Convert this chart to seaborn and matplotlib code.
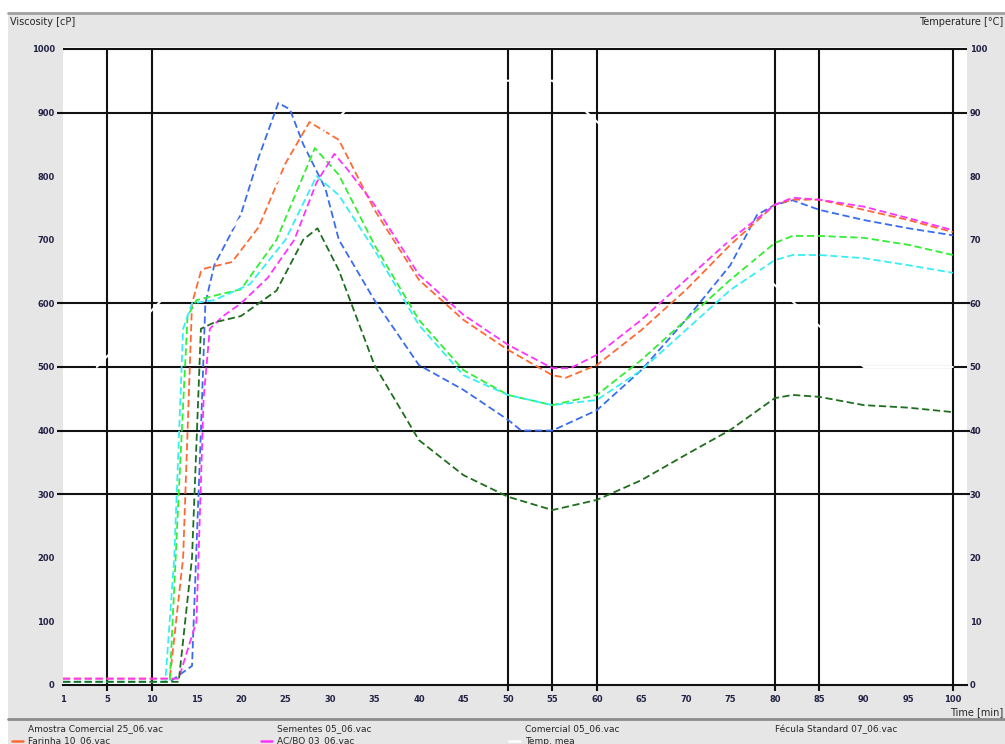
import matplotlib
matplotlib.use("Agg")
import matplotlib.pyplot as plt
from matplotlib.lines import Line2D
from matplotlib.patches import Rectangle
import pandas as pd
import seaborn as sns

# RVA viscosity curves, time axis is in chart index units (tick labels 1, 5, 10 ... 100)
blue_t = [0, 12, 14.5, 15.5, 16.0, 17.0, 20, 22, 24.2, 25.5, 27, 29.5, 31, 35, 40, 45, 50, 51.5, 55, 60, 65, 70, 75, 78, 80, 82, 85, 90, 95, 100]
blue_v = [5, 5, 30, 400, 600, 660, 740, 830, 915, 905, 850, 780, 700, 605, 503, 464, 417, 400, 400, 432, 495, 574, 660, 739, 755, 762, 747, 731, 718, 707]

orange_t = [0, 12, 13.5, 14.5, 15.5, 16, 19, 22, 25, 27.7, 31, 35, 40, 45, 50, 55, 56.5, 60, 65, 70, 75, 80, 82, 85, 90, 95, 100]
orange_v = [10, 10, 200, 600, 650, 655, 665, 720, 820, 885, 857, 747, 637, 574, 527, 487, 483, 503, 558, 621, 692, 755, 763, 763, 747, 731, 712]

magenta_t = [0, 13, 15, 15.8, 16.5, 18, 20, 23, 26, 28.5, 30.5, 32, 35, 40, 45, 50, 55, 57, 60, 65, 70, 75, 80, 82, 85, 90, 95, 100]
magenta_v = [10, 10, 100, 450, 560, 580, 600, 640, 700, 790, 835, 810, 755, 645, 582, 535, 498, 498, 519, 574, 637, 700, 755, 766, 763, 752, 734, 715]

green_t = [0, 12, 13, 14, 15, 17, 20, 24, 28.3, 31, 35, 40, 45, 50, 55, 60, 65, 70, 75, 80, 82, 85, 90, 95, 100]
green_v = [5, 5, 300, 580, 605, 612, 622, 700, 844, 802, 692, 574, 495, 456, 440, 456, 511, 574, 637, 695, 706, 706, 703, 692, 676]

cyan_t = [0, 11.5, 12.5, 13.5, 14.5, 17, 21, 25, 28.5, 31, 35, 40, 45, 50, 55, 60, 65, 70, 75, 80, 82, 85, 90, 95, 100]
cyan_v = [5, 5, 200, 560, 600, 605, 630, 700, 800, 770, 684, 566, 487, 456, 440, 448, 495, 558, 621, 668, 676, 676, 671, 660, 648]

dkgreen_t = [0, 13, 14.5, 15.5, 17, 20, 24, 27, 28.6, 31, 35, 40, 45, 50, 55, 60, 65, 70, 75, 80, 82, 85, 90, 95, 100]
dkgreen_v = [5, 5, 200, 560, 570, 580, 620, 700, 718, 652, 503, 385, 330, 296, 275, 291, 322, 362, 401, 451, 456, 453, 440, 436, 429]

# temperature trace (drawn white, as in the instrument export)
temp_t = [3.8, 35, 55, 90, 100]
temp_v = [50, 95, 95, 50, 50]

samples = ["Amostra Comercial 25_06.vac", "Farinha 10_06.vac", "Sementes 05_06.vac",
           "AC/BO 03_06.vac", "Comercial 05_06.vac", "Fécula Standard 07_06.vac"]
colors = ["#3a6cf0", "#ff6a33", "#33ee33", "#ff33ff", "#38eef5", "#1e6e1e"]
series = [(blue_t, blue_v), (orange_t, orange_v), (green_t, green_v),
          (magenta_t, magenta_v), (cyan_t, cyan_v), (dkgreen_t, dkgreen_v)]

x_ticks = list(range(0, 101, 5))
x_labels = ["1"] + [str(v) for v in range(5, 101, 5)]
v_grid = [5, 10, 50, 55, 60, 80, 85, 100]
h_grid = [300, 400, 500, 600, 900, 1000]

# legend rows as shown under the chart
legend_row1 = ["Amostra Comercial 25_06.vac", "Sementes 05_06.vac",
               "Comercial 05_06.vac", "Fécula Standard 07_06.vac"]
legend_row2 = ["Farinha 10_06.vac", "AC/BO 03_06.vac", "Temp. mea"]
legend_row2_colors = ["#ff6a33", "#ff33ff", "white"]

frames = []
for name, (t, v) in zip(samples, series):
    frames.append(pd.DataFrame({"time": t, "visc": v, "sample": name}))
df = pd.concat(frames, ignore_index=True)

sns.set_style("white")
plt.rcParams["font.family"] = ["DejaVu Sans"]

fig = plt.figure(figsize=(10.05, 7.44), dpi=100)
W, H = 1005, 744
grey = "#e6e6e6"
fig.patches.append(Rectangle((8 / W, 0), 1 - 8 / W, 1 - 13 / H, transform=fig.transFigure,
                             facecolor=grey, edgecolor="none", zorder=-10))
fig.add_artist(Line2D([8 / W, 1], [1 - 13 / H] * 2, color="#a0a0a0", lw=2))
fig.add_artist(Line2D([8 / W, 1], [1 - 719 / H] * 2, color="#8c8c8c", lw=2))

ax = fig.add_axes([63 / W, 1 - 685 / H, (967 - 63) / W, (685 - 47) / H])
ax.set_facecolor("white")

for x in v_grid:
    ax.vlines(x, -10, 1000, color="#111111", lw=1.5, clip_on=False, zorder=1)
for y in h_grid:
    left = 0 if y == 1000 else -0.7
    right = 101.9 if y in (300, 400, 600) else 101.6
    ax.hlines(y, left, right, color="#111111", lw=1.5, clip_on=False, zorder=1)

sns.lineplot(data=df, x="time", y="visc", hue="sample", style="sample",
             palette=dict(zip(samples, colors)),
             dashes={s: (4, 2) for s in samples},
             lw=1.3, legend=False, ax=ax, zorder=3, sort=False)

ax.set_xlim(0, 101.6)
ax.set_ylim(0, 1003)
ax.set_xticks(x_ticks)
ax.set_xticklabels(x_labels)
ax.set_yticks(range(0, 1001, 100))
ax.set_xlabel("")
ax.set_ylabel("")
ax.tick_params(axis="both", length=0, labelsize=6, colors="#222244")
ax.tick_params(axis="x", pad=7)
ax.tick_params(axis="y", pad=6)
for lab in ax.get_xticklabels() + ax.get_yticklabels():
    lab.set_fontweight("bold")
for side in ["left", "right", "top"]:
    ax.spines[side].set_visible(False)
ax.spines["bottom"].set_color("#111111")
ax.spines["bottom"].set_linewidth(1.5)

ax2 = ax.twinx()
ax2.set_ylim(0, 100.3)
ax2.set_yticks(range(0, 101, 10))
ax2.tick_params(axis="y", length=0, labelsize=6, colors="#222244", pad=2)
for lab in ax2.get_yticklabels():
    lab.set_fontweight("bold")
for side in ["left", "right", "top", "bottom"]:
    ax2.spines[side].set_visible(False)
ax2.plot(temp_t, temp_v, color="white", lw=1.5, zorder=2)

fig.text(10 / W, 1 - 22 / H, "Viscosity [cP]", fontsize=7, va="center", ha="left")
fig.text(1003 / W, 1 - 22 / H, "Temperature [°C]", fontsize=7, va="center", ha="right")
fig.text(1003 / W, 1 - 712 / H, "Time [min]", fontsize=7, va="center", ha="right")

col_x = [28, 277, 525, 775]
for x, label in zip(col_x, legend_row1):
    fig.text(x / W, 1 - 729 / H, label, fontsize=6.5, va="center", ha="left")
for x, label, c in zip(col_x, legend_row2, legend_row2_colors):
    fig.add_artist(Line2D([(x - 16) / W, (x - 5) / W], [1 - 741 / H] * 2, color=c, lw=1.8))
    fig.text(x / W, 1 - 741 / H, label, fontsize=6.5, va="center", ha="left")

fig.savefig("out.png", dpi=100)
